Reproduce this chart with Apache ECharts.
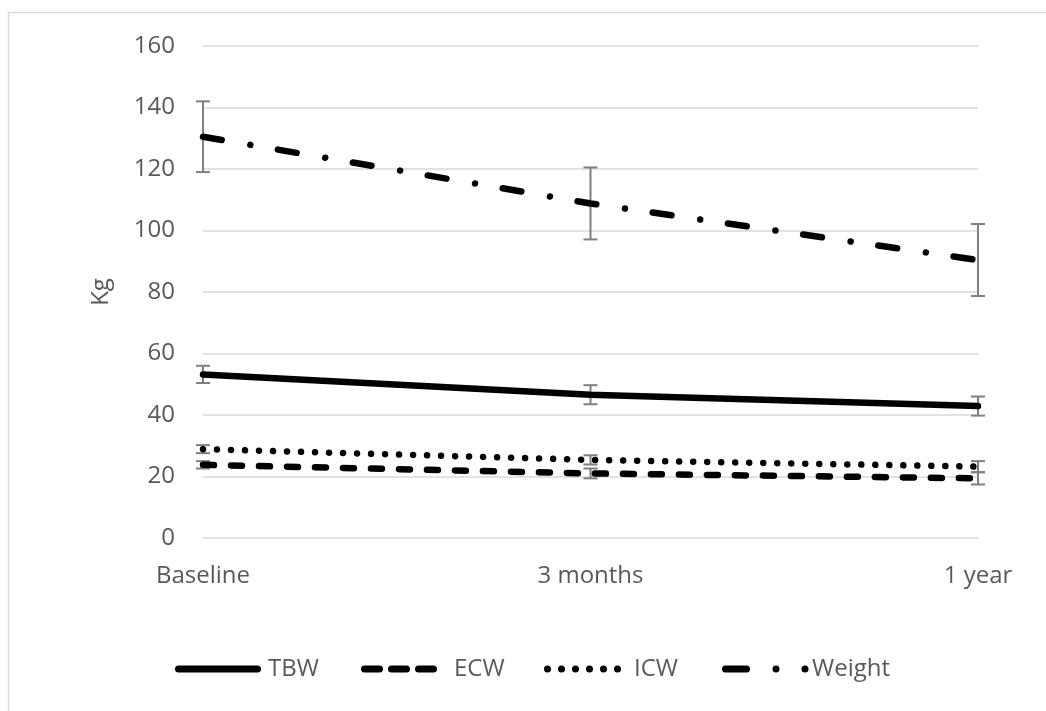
<!DOCTYPE html>
<html>
<head>
<meta charset="utf-8">
<script src="https://cdn.jsdelivr.net/npm/echarts@6/dist/echarts.min.js"></script>
<style>
  html, body { margin: 0; padding: 0; background: #fff; }
  #chart { width: 1046px; height: 711px; }
</style>
</head>
<body>
<div id="chart"></div>
<script>
// Time points
const categories = ['Baseline', '3 months', '1 year'];

// Mean values (kg)
const tbw    = [53.2, 46.6, 42.9];
const ecw    = [23.8, 21.0, 19.4];
const icw    = [28.9, 25.4, 23.2];
const weight = [130.5, 108.8, 90.4];

// Standard deviations (kg) shown as error bars
const tbwErr    = [2.8, 3.1, 3.1];
const ecwErr    = [1.2, 1.6, 2.0];
const icwErr    = [1.3, 1.5, 1.8];
const weightErr = [11.5, 11.7, 11.7];

const textColor = '#595959';
const fontFamily = '"Open Sans", "Noto Sans", sans-serif';
const lineWidth = 6.5;

// Dash patterns per series (plot lines and legend keys)
const styles = {
  TBW:    { plot: 'solid',             key: 'solid' },
  ECW:    { plot: [11, 17],            key: [15, 12] },
  ICW:    { plot: [0.01, 14],          key: [0.01, 13.99] },
  Weight: { plot: [19, 29, 0.01, 28],  key: [21, 29.5, 0.01, 29, 0.01, 100] }
};

function errorSeries(name, means, errs) {
  return {
    type: 'custom',
    name: name + ' SD',
    z: 1,
    silent: true,
    data: means.map((m, i) => [i, m - errs[i], m + errs[i]]),
    renderItem: function (params, api) {
      const lo = api.coord([api.value(0), api.value(1)]);
      const hi = api.coord([api.value(0), api.value(2)]);
      const half = 7;
      const style = { stroke: '#7f7f7f', lineWidth: 2, fill: null };
      return {
        type: 'group',
        children: [
          { type: 'line', shape: { x1: lo[0], y1: lo[1], x2: hi[0], y2: hi[1] }, style: style },
          { type: 'line', shape: { x1: lo[0] - half, y1: lo[1], x2: lo[0] + half, y2: lo[1] }, style: style },
          { type: 'line', shape: { x1: hi[0] - half, y1: hi[1], x2: hi[0] + half, y2: hi[1] }, style: style }
        ]
      };
    }
  };
}

function lineSeries(name, values) {
  return {
    type: 'line',
    name: name,
    data: values,
    symbol: 'none',
    z: 3,
    lineStyle: { color: '#000', width: lineWidth, type: styles[name].plot, cap: 'round' },
    itemStyle: { color: '#000' }
  };
}

// Legend keys: line sample then label
const legendItems = [
  { name: 'TBW',    x1: 178.5, x2: 257.5, tx: 268 },
  { name: 'ECW',    x1: 364.5, x2: 433.5, tx: 454 },
  { name: 'ICW',    x1: 547.5, x2: 617.5, tx: 634 },
  { name: 'Weight', x1: 725.5, x2: 805.5, tx: 812 }
];
const legendY = 669;

const legendGraphics = [];
legendItems.forEach(function (it) {
  legendGraphics.push({
    type: 'line',
    silent: true,
    shape: { x1: it.x1, y1: legendY, x2: it.x2, y2: legendY },
    style: { stroke: '#000', lineWidth: 7, lineCap: 'round', lineDash: styles[it.name].key === 'solid' ? null : styles[it.name].key }
  });
  legendGraphics.push({
    type: 'text',
    silent: true,
    x: it.tx,
    y: legendY,
    style: { text: it.name, fill: textColor, font: '24px ' + fontFamily, verticalAlign: 'middle', align: 'left' }
  });
});

const chart = echarts.init(document.getElementById('chart'), null, { renderer: 'canvas' });

chart.setOption({
  backgroundColor: '#fff',
  animation: false,
  textStyle: { fontFamily: fontFamily },
  graphic: [{
    type: 'rect',
    silent: true,
    shape: { x: 8.5, y: 12.5, width: 2000, height: 2000 },
    style: { fill: null, stroke: '#d9d9d9', lineWidth: 1.5 }
  }].concat(legendGraphics),
  grid: { left: 203, right: 68, top: 46, bottom: 173 },
  xAxis: {
    type: 'category',
    data: categories,
    boundaryGap: false,
    axisLine: { show: false },
    axisTick: { show: false },
    axisLabel: { color: textColor, fontSize: 24, margin: 26, fontFamily: fontFamily }
  },
  yAxis: {
    type: 'value',
    min: 0,
    max: 160,
    interval: 20,
    name: 'Kg',
    nameLocation: 'middle',
    nameGap: 90,
    nameTextStyle: { color: textColor, fontSize: 24, fontFamily: fontFamily },
    axisLine: { show: false },
    axisTick: { show: false },
    axisLabel: { color: textColor, fontSize: 24, margin: 28, fontFamily: fontFamily },
    splitLine: { lineStyle: { color: '#d9d9d9', width: 1.5 } }
  },
  series: [
    errorSeries('TBW', tbw, tbwErr),
    errorSeries('ECW', ecw, ecwErr),
    errorSeries('ICW', icw, icwErr),
    errorSeries('Weight', weight, weightErr),
    lineSeries('TBW', tbw),
    lineSeries('ECW', ecw),
    lineSeries('ICW', icw),
    lineSeries('Weight', weight)
  ]
});
</script>
</body>
</html>
